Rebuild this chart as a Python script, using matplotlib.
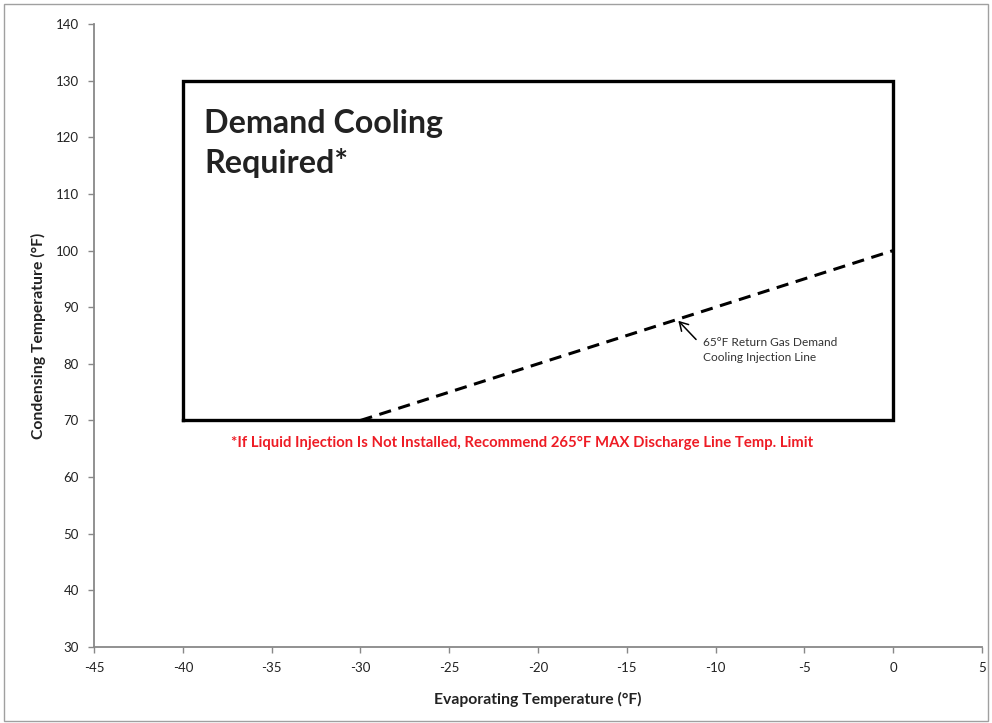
import matplotlib
matplotlib.use("Agg")
import matplotlib.pyplot as plt
from matplotlib.patches import Rectangle

plt.rcParams['font.family'] = ['Lato', 'DejaVu Sans']
plt.rcParams['axes.unicode_minus'] = False

# envelope box
box_x = [-40, -40, 0, 0, -40]
box_y = [70, 130, 130, 70, 70]
# 65F return gas demand cooling injection line
inj_x = [-30, 0]
inj_y = [70, 100]

x_ticks = list(range(-45, 6, 5))
y_ticks = list(range(30, 141, 10))

fig = plt.figure(figsize=(9.92, 7.23), dpi=100)
fig.patches.append(Rectangle((0.004, 0.003), 0.992, 0.992, transform=fig.transFigure,
                             fill=False, edgecolor='#a0a0a0', linewidth=1))
ax = fig.add_axes([0.0948, 0.1051, 0.8951, 0.8617])

ax.plot(box_x, box_y, color='black', linewidth=2.4, solid_joinstyle='miter')
ax.plot(inj_x, inj_y, color='black', linewidth=2.2, linestyle=(0, (4, 2.5)))

ax.set_xlim(-45, 5)
ax.set_ylim(30, 140)
ax.set_xticks(x_ticks)
ax.set_yticks(y_ticks)
for s in ('top', 'right'):
    ax.spines[s].set_visible(False)
for s in ('left', 'bottom'):
    ax.spines[s].set_color('#888888')
    ax.spines[s].set_linewidth(1.3)
ax.tick_params(direction='out', length=4, width=1, color='#888888',
               labelsize=9.5, labelcolor='#222222', pad=7)

ax.set_xlabel('Evaporating Temperature (°F)', fontsize=11.3, fontweight='bold',
              color='#222222', labelpad=13)
ax.set_ylabel('Condensing Temperature (°F)', fontsize=11.3, fontweight='bold',
              color='#222222', labelpad=7)

ax.text(-38.8, 125.0, 'Demand Cooling\nRequired*', fontsize=23.2, fontweight='bold',
        color='#222222', va='top', ha='left', linespacing=1.4)

ax.annotate('', xy=(-12.1, 87.6), xytext=(-11.1, 84.3),
            arrowprops=dict(arrowstyle='->,head_length=0.6,head_width=0.35', color='black', lw=1.1,
                            shrinkA=0, shrinkB=0))
ax.text(-10.7, 82.4, '65°F Return Gas Demand\nCooling Injection Line',
        fontsize=8.6, color='#333333', va='center', ha='left', linespacing=1.45)

ax.text(-20.9, 66.1, '*If Liquid Injection Is Not Installed, Recommend 265°F MAX Discharge Line Temp. Limit',
        fontsize=10.7, fontweight='bold', color='#ee1c25', ha='center', va='center')

fig.savefig('out.png', dpi=100)
